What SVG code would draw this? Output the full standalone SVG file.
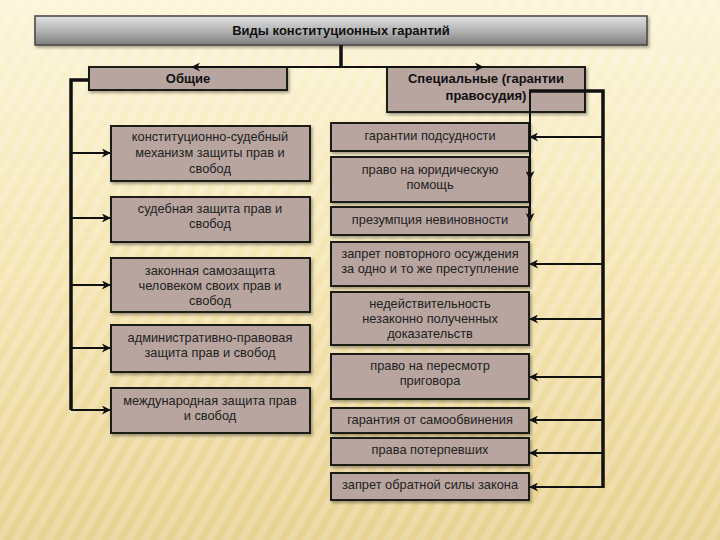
<svg xmlns="http://www.w3.org/2000/svg" width="720" height="540" viewBox="0 0 720 540">
<defs>
<linearGradient id="bg" x1="0" y1="0" x2="0" y2="1">
<stop offset="0" stop-color="#fcf5d8"/>
<stop offset="0.5" stop-color="#f5e5b2"/>
<stop offset="1" stop-color="#e8d292"/>
</linearGradient>
<pattern id="stripes" width="14" height="14" patternUnits="userSpaceOnUse" patternTransform="rotate(30)">
<rect width="7" height="14" fill="#ffffff" opacity="0.18"/>
</pattern>
<linearGradient id="title" x1="0" y1="0" x2="0" y2="1">
<stop offset="0" stop-color="#e2e2e2"/>
<stop offset="0.5" stop-color="#b4b4b4"/>
<stop offset="1" stop-color="#7e7e7e"/>
</linearGradient>
<linearGradient id="orange" x1="0" y1="0" x2="1" y2="0">
<stop offset="0" stop-color="#e9a842" stop-opacity="0.2"/>
<stop offset="0.06" stop-color="#e9a842" stop-opacity="0.9"/>
<stop offset="1" stop-color="#eab25a" stop-opacity="0.9"/>
</linearGradient>
<filter id="sh" x="-10%" y="-20%" width="130%" height="160%">
<feDropShadow dx="1.5" dy="2" stdDeviation="1.5" flood-color="#000" flood-opacity="0.35"/>
</filter>
<marker id="ah" viewBox="0 0 10 10" refX="9" refY="5" markerWidth="10" markerHeight="9" markerUnits="userSpaceOnUse" orient="auto">
<path d="M0,0 L10,5 L0,10 L3,5 z" fill="#111"/>
</marker>
<style>
.box{fill:#b8a59f;stroke:#1e1a18;stroke-width:2;filter:url(#sh)}
.t{font-family:"Liberation Sans",Arial,sans-serif;font-size:12.8px;fill:#222;text-anchor:middle}
.h{font-family:"Liberation Sans",Arial,sans-serif;font-size:13px;font-weight:bold;fill:#111;text-anchor:middle}
.thick{fill:none;stroke:#111;stroke-width:3.5}
.arr{fill:none;stroke:#111;stroke-width:2;marker-end:url(#ah)}
</style>
</defs>
<rect width="720" height="540" fill="url(#bg)"/>
<rect width="720" height="540" fill="url(#stripes)"/>
<line x1="38" y1="82.5" x2="720" y2="82.5" stroke="url(#orange)" stroke-width="2"/>

<g id="title-node">
<rect x="35" y="16" width="612" height="29" fill="url(#title)" stroke="#444" stroke-width="1.5" filter="url(#sh)"/>
<text class="h" x="341" y="35">Виды конституционных гарантий</text>
</g>
<g id="general">
<rect class="box" x="89" y="67" width="198" height="23"/>
<text class="h" x="188" y="83">Общие</text>
</g>
<g id="special">
<rect class="box" x="387" y="67" width="198" height="45"/>
<text class="h" x="486" y="83">Специальные (гарантии</text>
<text class="h" x="486" y="100">правосудия)</text>
</g>

<g id="g1"><rect class="box" x="111" y="126" width="199" height="55"/>
<text class="t" x="210" y="141">конституционно-судебный</text>
<text class="t" x="210" y="157">механизм защиты прав и</text>
<text class="t" x="210" y="173">свобод</text></g>
<g id="g2"><rect class="box" x="111" y="197" width="199" height="45"/>
<text class="t" x="210" y="213">судебная защита прав и</text>
<text class="t" x="210" y="228">свобод</text></g>
<g id="g3"><rect class="box" x="111" y="258" width="199" height="54"/>
<text class="t" x="210" y="275">законная самозащита</text>
<text class="t" x="210" y="290">человеком своих прав и</text>
<text class="t" x="210" y="305">свобод</text></g>
<g id="g4"><rect class="box" x="111" y="325" width="199" height="47"/>
<text class="t" x="210" y="342">административно-правовая</text>
<text class="t" x="210" y="357">защита прав и свобод</text></g>
<g id="g5"><rect class="box" x="111" y="388" width="199" height="45"/>
<text class="t" x="210" y="405">международная защита прав</text>
<text class="t" x="210" y="420">и свобод</text></g>

<g id="s1"><rect class="box" x="331" y="123" width="198" height="28"/>
<text class="t" x="430" y="140">гарантии подсудности</text></g>
<g id="s2"><rect class="box" x="331" y="157" width="198" height="45"/>
<text class="t" x="430" y="174">право на юридическую</text>
<text class="t" x="430" y="189">помощь</text></g>
<g id="s3"><rect class="box" x="331" y="207" width="198" height="28"/>
<text class="t" x="430" y="224">презумпция невиновности</text></g>
<g id="s4"><rect class="box" x="331" y="242" width="198" height="44"/>
<text class="t" x="430" y="258">запрет повторного осуждения</text>
<text class="t" x="430" y="273">за одно и то же преступление</text></g>
<g id="s5"><rect class="box" x="331" y="292" width="198" height="53"/>
<text class="t" x="430" y="308">недействительность</text>
<text class="t" x="430" y="323">незаконно полученных</text>
<text class="t" x="430" y="338">доказательств</text></g>
<g id="s6"><rect class="box" x="331" y="354" width="198" height="45"/>
<text class="t" x="430" y="370">право на пересмотр</text>
<text class="t" x="430" y="385">приговора</text></g>
<g id="s7"><rect class="box" x="331" y="408" width="198" height="25"/>
<text class="t" x="430" y="423.5">гарантия от самообвинения</text></g>
<g id="s8"><rect class="box" x="331" y="438" width="198" height="27"/>
<text class="t" x="430" y="454">права потерпевших</text></g>
<g id="s9"><rect class="box" x="331" y="473" width="198" height="27"/>
<text class="t" x="430" y="488.5">запрет обратной силы закона</text></g>

<g id="connectors">
<path class="thick" d="M341,45 V67" stroke-width="3"/>
<path class="arr" d="M341,67 H192" stroke-width="2.5"/>
<path class="arr" d="M341,67 H483" stroke-width="2.5"/>
<path class="thick" d="M89,80 H71 V410"/>
<path class="arr" d="M71,153 H110"/>
<path class="arr" d="M71,218 H110"/>
<path class="arr" d="M71,285 H110"/>
<path class="arr" d="M71,348 H110"/>
<path class="arr" d="M71,410 H110"/>
<path class="thick" d="M529,91 H603 V488"/>
<path class="arr" d="M530,91 V179" stroke-width="2.5"/>
<path class="arr" d="M530,179 V221" stroke-width="2.5"/>
<path class="arr" d="M603,137 H530"/>
<path class="arr" d="M603,264 H530"/>
<path class="arr" d="M603,319 H530"/>
<path class="arr" d="M603,377 H530"/>
<path class="arr" d="M603,420 H530"/>
<path class="arr" d="M603,453 H530"/>
<path class="arr" d="M603,487 H530"/>
</g>
</svg>
